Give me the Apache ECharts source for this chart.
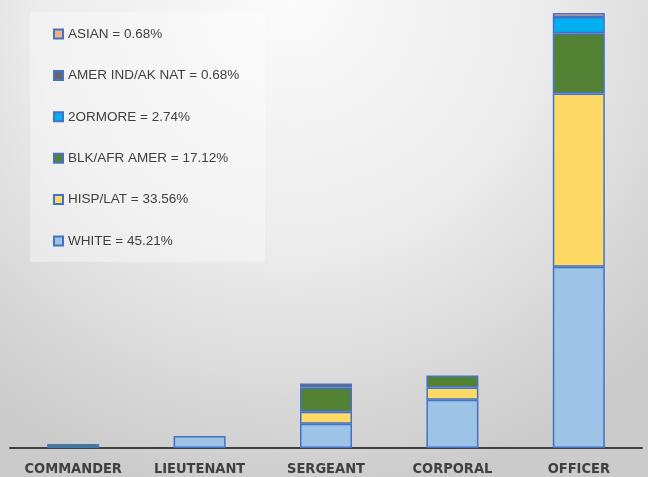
<!DOCTYPE html>
<html>
<head>
<meta charset="utf-8">
<script src="https://cdn.jsdelivr.net/npm/echarts@6/dist/echarts.min.js"></script>
<style>html,body{margin:0;padding:0;}#c{width:648px;height:477px;}</style>
</head>
<body>
<div id="c"></div>
<script>
const categories = ['COMMANDER', 'LIEUTENANT', 'SERGEANT', 'CORPORAL', 'OFFICER'];
const white = [0, 3, 6, 12, 45];
const hispLat = [0, 0, 3, 3, 43];
const blkAfrAmer = [1, 0, 6, 3, 15];
const twoOrMore = [0, 0, 0, 0, 4];
const amerIndAkNat = [0, 0, 1, 0, 0];
const asian = [0, 0, 0, 0, 1];
const seriesNames = ['WHITE', 'HISP/LAT', 'BLK/AFR AMER', '2ORMORE', 'AMER IND/AK NAT', 'ASIAN'];
const legendOrder = ['ASIAN', 'AMER IND/AK NAT', '2ORMORE', 'BLK/AFR AMER', 'HISP/LAT', 'WHITE'];
const legendPct = {'ASIAN': '0.68%', 'AMER IND/AK NAT': '0.68%', '2ORMORE': '2.74%', 'BLK/AFR AMER': '17.12%', 'HISP/LAT': '33.56%', 'WHITE': '45.21%'};
const colors = ['#9DC3E6', '#FFD966', '#548235', '#00B0F0', '#666666', '#F4B183'];
const values = [white, hispLat, blkAfrAmer, twoOrMore, amerIndAkNat, asian];

const chart = echarts.init(document.getElementById('c'));
const series = seriesNames.map((name, i) => ({
  name: name,
  type: 'bar',
  stack: 'total',
  barWidth: 52,
  data: values[i].map(v => v === 0 ? '-' : v),
  itemStyle: {color: colors[i], borderColor: '#4472C4', borderWidth: 1.5},
  emphasis: {disabled: true}
}));

chart.setOption({
  animation: false,
  backgroundColor: {
    type: 'radial', x: 0.45, y: 0.0, r: 1.05,
    colorStops: [{offset: 0, color: '#fbfbfb'}, {offset: 0.5, color: '#ececec'}, {offset: 1, color: '#cbcbcb'}]
  },
  graphic: [{
    type: 'rect', left: 30, top: 12, z: -1,
    shape: {width: 235, height: 250},
    style: {fill: 'rgba(255,255,255,0.35)'}
  }],
  grid: {left: 10, right: 6, top: 5, bottom: 27},
  legend: {
    orient: 'vertical', left: 48, top: 22,
    icon: 'rect',
    itemWidth: 9, itemHeight: 9, itemGap: 27.4, itemTextGap: 5,
    data: legendOrder,
    formatter: n => n + ' = ' + legendPct[n],
    textStyle: {fontFamily: 'Liberation Sans', fontSize: 13.5, color: '#404040', lineHeight: 14},
    selectedMode: false
  },
  xAxis: {
    type: 'category', data: categories,
    axisTick: {show: false},
    axisLine: {lineStyle: {color: '#404040', width: 2}},
    axisLabel: {interval: 0, fontFamily: "'DejaVu Sans Condensed', 'Liberation Sans', sans-serif", fontWeight: 'bold', fontSize: 14.5, color: '#404040', margin: 14}
  },
  yAxis: {type: 'value', min: 0, max: 110, show: false, splitLine: {show: false}},
  series: series
});
</script>
</body>
</html>
